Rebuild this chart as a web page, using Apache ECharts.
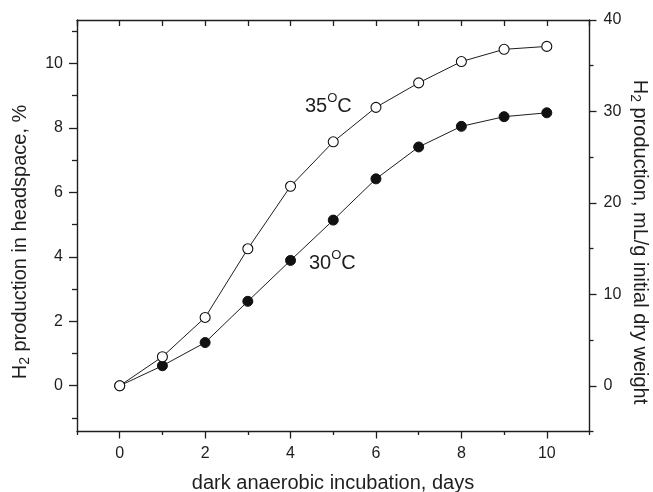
<!DOCTYPE html>
<html><head><meta charset="utf-8">
<script src="https://cdn.jsdelivr.net/npm/echarts@6/dist/echarts.min.js"></script>
<style>html,body{margin:0;padding:0;background:#fff}#c{width:653px;height:492px}</style>
</head><body><div id="c"></div>
<script>
const days = [0, 1, 2, 3, 4, 5, 6, 7, 8, 9, 10];
const h2At35 = [0, 0.90, 2.12, 4.25, 6.19, 7.57, 8.64, 9.40, 10.06, 10.44, 10.53];
const h2At30 = [0, 0.62, 1.34, 2.62, 3.89, 5.14, 6.42, 7.41, 8.05, 8.35, 8.47];
const xMajorTicks = [0, 2, 4, 6, 8, 10];
const xMinorTicks = [-1, 1, 3, 5, 7, 9, 11];
const xTopTicks = [-1, 0, 1, 2, 3, 4, 5, 6, 7, 8, 9, 10, 11];
const leftMajorTicks = [0, 2, 4, 6, 8, 10];
const leftMinorTicks = [-1, 1, 3, 5, 7, 9, 11];
const rightMajorTicks = [0, 10, 20, 30, 40];
const rightMinorTicks = [-5, 5, 15, 25, 35];

const FONT = '"Liberation Sans", Arial, Helvetica, sans-serif';
const INK = '#1e1e1e';
const chart = echarts.init(document.getElementById('c'), null, {renderer: 'canvas'});

const axisLine = {show: true, onZero: false, lineStyle: {color: INK, width: 1.4}};
const hiddenLine = {show: false, onZero: false};
function tick(vals, len, inside) {
  return {show: true, customValues: vals, length: len, inside: !!inside, lineStyle: {color: INK, width: 1.3}};
}
const lbl = (vals, margin) => ({show: true, customValues: vals, color: INK, fontSize: 16, fontFamily: FONT, margin: margin});
const noLbl = {show: false};
const noSplit = {show: false};

const xBase = {type: 'value', min: -1, max: 11, splitLine: noSplit};
const yLeft = {type: 'value', min: -1.42, max: 11.35, splitLine: noSplit};
const yRight = {type: 'value', min: -5, max: 40, splitLine: noSplit};

const option = {
  backgroundColor: '#fff',
  animation: false,
  grid: {left: 77, right: 63.5, top: 20, bottom: 60.5, containLabel: false, outerBoundsMode: 'none'},
  xAxis: [
    Object.assign({}, xBase, {position: 'bottom', axisLine: axisLine, axisTick: tick(xMajorTicks, 7), axisLabel: lbl(xMajorTicks, 14)}),
    Object.assign({}, xBase, {position: 'bottom', axisLine: hiddenLine, axisTick: tick(xMinorTicks, 3.5), axisLabel: noLbl}),
    Object.assign({}, xBase, {position: 'top', axisLine: axisLine, axisTick: tick(xTopTicks, 6, true), axisLabel: noLbl})
  ],
  yAxis: [
    Object.assign({}, yLeft, {position: 'left', axisLine: axisLine, axisTick: tick(leftMajorTicks, 8), axisLabel: lbl(leftMajorTicks, 14)}),
    Object.assign({}, yRight, {position: 'right', axisLine: axisLine, axisTick: tick(rightMajorTicks, 7), axisLabel: lbl(rightMajorTicks, 14)}),
    Object.assign({}, yLeft, {position: 'left', axisLine: hiddenLine, axisTick: tick(leftMinorTicks, 5), axisLabel: noLbl}),
    Object.assign({}, yRight, {position: 'right', axisLine: hiddenLine, axisTick: tick(rightMinorTicks, 4), axisLabel: noLbl})
  ],
  series: [
    {
      name: '30°C', type: 'line', xAxisIndex: 0, yAxisIndex: 0,
      data: days.map((d, i) => [d, h2At30[i]]),
      symbol: 'circle', symbolSize: 10, showAllSymbol: true,
      lineStyle: {color: INK, width: 1},
      itemStyle: {color: '#111', borderColor: '#111', borderWidth: 1},
      z: 2
    },
    {
      name: '35°C', type: 'line', xAxisIndex: 0, yAxisIndex: 0,
      data: days.map((d, i) => [d, h2At35[i]]),
      symbol: 'circle', symbolSize: 10, showAllSymbol: true,
      lineStyle: {color: INK, width: 1},
      itemStyle: {color: '#fff', borderColor: '#111', borderWidth: 1.1},
      z: 3
    }
  ],
  graphic: [
    {
      type: 'text', x: 333, y: 483, z: 10,
      style: {text: 'dark anaerobic incubation, days', fill: INK, fontSize: 20, fontFamily: FONT, align: 'center', verticalAlign: 'middle'}
    },
    {
      type: 'text', x: 20, y: 242, rotation: Math.PI / 2, z: 10,
      style: {
        text: '{n|H}{s|2}{n| production in headspace, %}',
        align: 'center', verticalAlign: 'middle',
        rich: {
          n: {fontSize: 20, fontFamily: FONT, fill: INK, lineHeight: 24},
          s: {fontSize: 14, fontFamily: FONT, fill: INK, lineHeight: 14, verticalAlign: 'bottom'}
        }
      }
    },
    {
      type: 'text', x: 640, y: 242, rotation: -Math.PI / 2, z: 10,
      style: {
        text: '{n|H}{s|2}{n| production, mL/g initial dry weight}',
        align: 'center', verticalAlign: 'middle',
        rich: {
          n: {fontSize: 20, fontFamily: FONT, fill: INK, lineHeight: 24},
          s: {fontSize: 14, fontFamily: FONT, fill: INK, lineHeight: 14, verticalAlign: 'bottom'}
        }
      }
    },
    {
      type: 'text', x: 305, y: 106.5, z: 10,
      style: {
        text: '{n|35}{s|O}{n|C}', align: 'left', verticalAlign: 'middle',
        rich: {
          n: {fontSize: 20, fontFamily: FONT, fill: INK, lineHeight: 30},
          s: {fontSize: 13, fontFamily: FONT, fill: INK, lineHeight: 13, verticalAlign: 'top'}
        }
      }
    },
    {
      type: 'text', x: 309, y: 263.7, z: 10,
      style: {
        text: '{n|30}{s|O}{n|C}', align: 'left', verticalAlign: 'middle',
        rich: {
          n: {fontSize: 20, fontFamily: FONT, fill: INK, lineHeight: 30},
          s: {fontSize: 13, fontFamily: FONT, fill: INK, lineHeight: 13, verticalAlign: 'top'}
        }
      }
    }
  ]
};
chart.setOption(option);
</script>
</body></html>
